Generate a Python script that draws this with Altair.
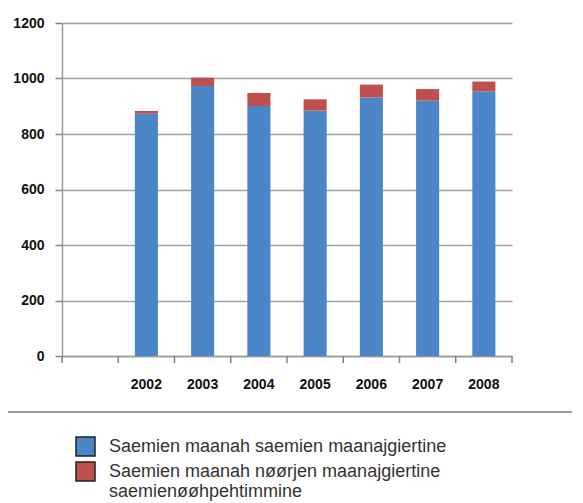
import altair as alt
import pandas as pd

years = ["2002", "2003", "2004", "2005", "2006", "2007", "2008"]
x_domain = [" "] + years
series_names = [
    "Saemien maanah saemien maanajgiertine",
    "Saemien maanah nøørjen maanajgiertine|saemienøøhpehtimmine",
]
blue_values = [873, 973, 901, 884, 931, 920, 953]
red_values = [10, 30, 47, 41, 47, 42, 36]
colors = ["#4a86c8", "#c0504d"]

rows = []
for i, y in enumerate(years):
    rows.append({"year": y, "series": series_names[0], "value": blue_values[i], "ord": 0})
    rows.append({"year": y, "series": series_names[1], "value": red_values[i], "ord": 1})
df = pd.DataFrame(rows)

FONT = "Liberation Sans"
AXIS_GREY = "#9a9a9a"
TICK_GREY = "#808080"

x_scale = alt.Scale(domain=x_domain, paddingInner=0, paddingOuter=0)

bars = alt.Chart(df).mark_bar(width=alt.RelativeBandSize(0.41)).encode(
    x=alt.X("year:N", scale=x_scale,
            axis=alt.Axis(title=None, labelAngle=0, ticks=False,
                          domainColor=AXIS_GREY, domainWidth=1.5,
                          labelFont=FONT, labelFontSize=14, labelFontWeight="bold",
                          labelColor="#111", labelPadding=21, grid=False)),
    y=alt.Y("value:Q", stack="zero",
            scale=alt.Scale(domain=[0, 1200], nice=False),
            axis=alt.Axis(title=None, values=[0, 200, 400, 600, 800, 1000, 1200],
                          format="d",
                          tickSize=7, tickColor=TICK_GREY, tickWidth=1.5,
                          domainColor=AXIS_GREY, domainWidth=1.5,
                          gridColor="#a0a0a0", gridWidth=1.5,
                          labelFont=FONT, labelFontSize=14, labelFontWeight="bold",
                          labelColor="#111", labelPadding=11)),
    color=alt.Color("series:N",
                    scale=alt.Scale(domain=series_names, range=colors),
                    legend=alt.Legend(title=None, orient="none", legendX=13, legendY=413,
                                      direction="vertical", symbolType="square",
                                      symbolSize=361, symbolStrokeColor="#222",
                                      symbolStrokeWidth=1.5, labelFont=FONT,
                                      labelFontSize=18, labelColor="#333",
                                      labelLimit=600, labelOffset=13, padding=0,
                                      rowPadding=0,
                                      labelExpr="split(datum.label, '|')")),
    order=alt.Order("ord:Q"),
)

# x-axis tick marks at the category boundaries
tick_df = pd.DataFrame({"year": x_domain})
ticks = alt.Chart(tick_df).mark_rule(color=TICK_GREY, strokeWidth=1.5).encode(
    x=alt.X("year:N", scale=x_scale, bandPosition=0),
    y=alt.value(333), y2=alt.value(340),
)
end_tick = alt.Chart(pd.DataFrame({"a": [0]})).mark_rule(color=TICK_GREY, strokeWidth=1.5).encode(
    x=alt.value(450), y=alt.value(333), y2=alt.value(340)
)

sep = alt.Chart(pd.DataFrame({"a": [0]})).mark_rule(color=AXIS_GREY, strokeWidth=2).encode(
    x=alt.value(-54), x2=alt.value(520), y=alt.value(389)
)

chart = alt.layer(bars, ticks, end_tick, sep).properties(
    width=450, height=333,
    autosize=alt.AutoSizeParams(type="none"),
    padding={"left": 54, "top": 15, "right": 60, "bottom": 145},
    background="white",
).configure_view(stroke=None)

chart.save("out.html", embed_options={"renderer": "svg", "actions": False})
